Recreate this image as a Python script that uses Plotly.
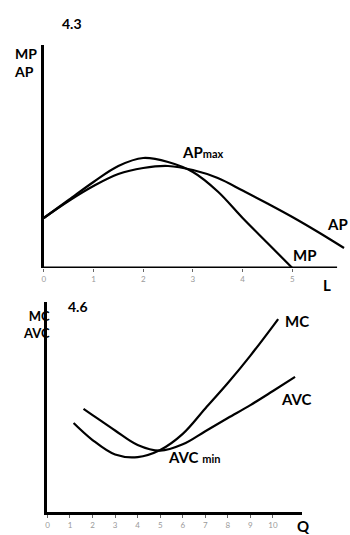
import plotly.graph_objects as go

# --- 4.3 : marginal and average product of labour ---
L_mp = [0, 0.5, 1, 1.5, 2, 2.5, 3, 3.5, 4, 4.5, 5]
MP = [1.0, 1.36, 1.72, 2.04, 2.2, 2.12, 1.92, 1.53, 1.0, 0.5, 0.0]
L_ap = [0, 0.5, 1, 1.5, 2, 2.5, 3, 3.5, 4, 4.5, 5, 5.5, 6.04]
AP = [1.0, 1.34, 1.64, 1.88, 2.0, 2.04, 1.96, 1.8, 1.55, 1.29, 1.02, 0.73, 0.4]
L_ticks = [0, 1, 2, 3, 4, 5]

# --- 4.6 : marginal and average variable cost ---
Q_mc = [1.16, 2, 3, 4, 5, 6, 7, 8, 9, 10, 10.23]
MC = [3.92, 3.17, 2.53, 2.42, 2.73, 3.44, 4.56, 5.68, 6.89, 8.19, 8.5]
Q_avc = [1.6, 2, 3, 4, 5, 6, 7, 8, 9, 10, 10.98]
AVC = [4.54, 4.27, 3.59, 2.95, 2.7, 2.98, 3.56, 4.14, 4.71, 5.33, 5.95]
Q_ticks = list(range(0, 11))

W, H = 350, 535
FONT = "Lato"
line = dict(color="black", width=2.2, shape="spline", smoothing=1.0)

fig = go.Figure()
fig.add_trace(go.Scatter(x=L_mp, y=MP, mode="lines", line=line, xaxis="x", yaxis="y"))
fig.add_trace(go.Scatter(x=L_ap, y=AP, mode="lines", line=line, xaxis="x", yaxis="y"))
fig.add_trace(go.Scatter(x=Q_mc, y=MC, mode="lines", line=line, xaxis="x2", yaxis="y2"))
fig.add_trace(go.Scatter(x=Q_avc, y=AVC, mode="lines", line=line, xaxis="x2", yaxis="y2"))

tickfont = dict(family=FONT, size=8, color="#9a9a9a")

fig.update_layout(
    width=W, height=H, margin=dict(l=0, r=0, t=0, b=0),
    paper_bgcolor="white", plot_bgcolor="white", showlegend=False,
    xaxis=dict(domain=[42 / W, 347 / W], range=[0, 6.1], tickvals=L_ticks,
               ticks="outside", ticklen=3, tickcolor="#666", tickfont=tickfont,
               showgrid=False, zeroline=False, showline=False, anchor="y"),
    yaxis=dict(domain=[1 - 268 / H, 1 - 45 / H], range=[0, 4.46], showticklabels=False,
               showgrid=False, zeroline=False, showline=True, linecolor="black",
               linewidth=3, anchor="x"),
    xaxis2=dict(domain=[45.7 / W, 302 / W], range=[0, 11.3], tickvals=Q_ticks,
                ticks="outside", ticklen=3, tickcolor="#666", tickfont=tickfont,
                showgrid=False, zeroline=False, showline=True, linecolor="black",
                linewidth=3, anchor="y2"),
    yaxis2=dict(domain=[1 - 512 / H, 1 - 302 / H], range=[0, 9.25], showticklabels=False,
                showgrid=False, zeroline=False, showline=True, linecolor="black",
                linewidth=3, anchor="x2"),
)

# x axis line of the upper chart stops short of the last curve point
fig.add_shape(type="line", xref="x", yref="y", x0=0, x1=5.9, y0=0, y1=0,
              line=dict(color="black", width=3))

ann = [
    # upper chart
    dict(text="<b>4.3</b>", xref="paper", yref="paper", x=70 / W, y=1 - 24 / H, size=14),
    dict(text="<b>MP<br>AP</b>", xref="paper", yref="paper", x=10 / W, y=1 - 62 / H,
         size=14, align="left", xanchor="left"),
    dict(text="<b>AP<span style='font-size:11px'>max</span></b>", xref="x", yref="y", x=3.2, y=2.32),
    dict(text="<b>AP</b>", xref="x", yref="y", x=5.9, y=0.88),
    dict(text="<b>MP</b>", xref="x", yref="y", x=5.24, y=0.26),
    dict(text="<b>L</b>", xref="paper", yref="paper", x=327 / W, y=1 - 285 / H),
    # lower chart
    dict(text="<b>4.6</b>", xref="paper", yref="paper", x=76 / W, y=1 - 306 / H, size=14),
    dict(text="<b>MC<br>AVC</b>", xref="paper", yref="paper", x=50 / W, y=1 - 324 / H,
         size=13, align="right", xanchor="right"),
    dict(text="<b>MC</b>", xref="x2", yref="y2", x=11.07, y=8.41),
    dict(text="<b>AVC</b>", xref="x2", yref="y2", x=11.03, y=4.98),
    dict(text="<b>AVC <span style='font-size:11px'>min</span></b>", xref="x2", yref="y2", x=6.49, y=2.42),
    dict(text="<b>Q</b>", xref="paper", yref="paper", x=303 / W, y=1 - 526 / H),
]
for a in ann:
    size = a.pop("size", 15)
    align = a.pop("align", "center")
    a.setdefault("xanchor", "center")
    a.setdefault("yanchor", "middle")
    fig.add_annotation(**a, showarrow=False, align=align,
                       font=dict(family=FONT, size=size, color="black"))

fig.write_html("out.html", config={"displayModeBar": False},
               post_script="document.body.style.margin='0';document.body.style.overflow='hidden';")
